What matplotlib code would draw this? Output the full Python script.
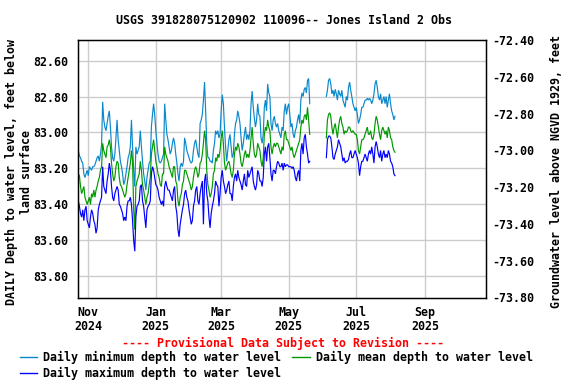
import numpy as np
import pandas as pd
import matplotlib
matplotlib.use("Agg")
import matplotlib.pyplot as plt
import matplotlib.dates as mdates

title = "USGS 391828075120902 110096-- Jones Island 2 Obs"
left_label = "DAILY Depth to water level, feet below\nland surface"
right_label = "Groundwater level above NGVD 1929, feet"
provisional = "---- Provisional Data Subject to Revision ----"
legend_labels = ["Daily minimum depth to water level",
                 "Daily mean depth to water level",
                 "Daily maximum depth to water level"]

seg1_start = "2024-10-23"
seg2_start = "2025-06-04"

min1 = [83.10, 83.13, 83.14, 83.16, 83.17, 83.23, 83.25, 83.23, 83.21, 83.24, 83.19, 83.20, 83.21, 83.19, 83.19, 83.18, 83.16, 83.14, 83.13, 83.16,
        83.12, 83.07, 82.83, 82.93, 82.97, 82.99, 82.95, 82.91, 82.88, 82.97, 83.08, 83.14, 83.16, 83.12, 83.03, 82.93, 83.04, 83.10, 83.16, 83.19,
        83.23, 83.29, 83.27, 83.23, 83.19, 83.14, 83.12, 83.08, 82.93, 83.08, 83.21, 83.30, 83.08, 83.12, 83.10, 83.08, 82.99, 83.08, 83.16, 83.23,
        83.27, 83.32, 83.25, 83.21, 83.17, 83.16, 82.97, 82.90, 82.84, 82.90, 82.99, 83.06, 83.12, 83.16, 83.17, 83.16, 83.14, 83.12, 82.84, 82.93,
        83.01, 83.04, 83.08, 83.12, 83.10, 83.06, 83.03, 83.06, 83.12, 83.17, 83.23, 83.27, 83.19, 83.17, 83.19, 83.16, 83.03, 83.06, 83.10, 83.12,
        83.14, 83.16, 83.17, 83.16, 83.10, 83.06, 83.04, 83.08, 83.12, 83.14, 82.95, 82.93, 82.90, 82.82, 82.72, 82.88, 83.06, 83.14, 83.14, 83.16,
        83.16, 83.17, 83.10, 83.06, 82.99, 83.01,
        82.99, 83.03, 83.01, 82.88, 82.79, 82.84, 82.97, 83.08, 83.16, 83.10, 83.04, 83.01, 83.08, 83.14, 83.12, 83.01, 82.95, 82.93, 82.88, 82.91,
        82.95, 83.03, 83.10, 83.06, 83.01, 82.97, 83.04, 83.01, 83.04, 82.99, 82.84, 82.77, 82.86, 82.92, 82.97, 82.93, 82.84, 82.90, 82.91, 83.03,
        83.06, 83.01, 82.86, 82.82, 82.88, 82.73, 82.78, 82.80, 82.95, 82.99, 82.93, 82.91, 82.95, 82.97, 82.95, 82.99, 83.01, 83.03, 82.97, 82.99,
        82.88, 82.84, 82.90, 82.86, 82.84, 82.90, 82.97, 82.95, 83.01, 83.03, 82.99, 82.97, 82.93, 82.90, 82.95, 82.82, 82.78, 82.80, 82.76, 82.75,
        82.78, 82.71, 82.70, 82.84]

mean1 = [83.23, 83.24, 83.30, 83.34, 83.32, 83.30, 83.36, 83.38, 83.40, 83.38, 83.36, 83.40, 83.34, 83.36, 83.32, 83.36, 83.32, 83.30, 83.27, 83.25,
         83.21, 83.19, 83.06, 83.10, 83.12, 83.14, 83.08, 83.07, 83.04, 83.08, 83.17, 83.23, 83.27, 83.25, 83.19, 83.16, 83.17, 83.25, 83.29, 83.30,
         83.32, 83.34, 83.36, 83.34, 83.29, 83.25, 83.21, 83.17, 83.10, 83.16, 83.43, 83.54, 83.30, 83.27, 83.25, 83.23, 83.16, 83.21, 83.29, 83.32,
         83.36, 83.40, 83.36, 83.34, 83.29, 83.25, 83.12, 83.08, 83.04, 83.10, 83.16, 83.19, 83.23, 83.25, 83.29, 83.30, 83.23, 83.23, 83.08, 83.12,
         83.14, 83.16, 83.19, 83.21, 83.23, 83.25, 83.19, 83.19, 83.27, 83.29, 83.38, 83.41, 83.36, 83.34, 83.29, 83.27, 83.21, 83.21, 83.23, 83.25,
         83.27, 83.29, 83.32, 83.30, 83.25, 83.21, 83.19, 83.21, 83.25, 83.23, 83.17, 83.16, 83.12, 83.06, 82.99, 83.04, 83.21, 83.29, 83.32, 83.36,
         83.34, 83.30, 83.23, 83.21, 83.14, 83.16,
         83.12, 83.14, 83.10, 83.03, 82.99, 83.06, 83.17, 83.21, 83.19, 83.17, 83.16, 83.19, 83.23, 83.25, 83.21, 83.12, 83.08, 83.10, 83.06, 83.08,
         83.12, 83.17, 83.19, 83.16, 83.12, 83.10, 83.14, 83.12, 83.14, 83.10, 83.03, 82.97, 83.06, 83.12, 83.14, 83.12, 83.06, 83.08, 83.10, 83.16,
         83.19, 83.14, 83.01, 82.97, 82.99, 82.93, 82.97, 82.99, 83.08, 83.12, 83.08, 83.06, 83.08, 83.06, 83.06, 83.08, 83.10, 83.12, 83.08, 83.10,
         83.01, 82.99, 83.04, 83.04, 83.06, 83.08, 83.10, 83.08, 83.12, 83.14, 83.12, 83.10, 83.08, 83.06, 83.04, 82.97, 82.93, 82.95, 82.91, 82.90,
         82.93, 82.86, 82.93, 83.01]

max1 = [83.38, 83.41, 83.45, 83.47, 83.43, 83.49, 83.43, 83.41, 83.49, 83.51, 83.53, 83.47, 83.43, 83.45, 83.49, 83.51, 83.56, 83.53, 83.43, 83.40,
        83.38, 83.36, 83.19, 83.30, 83.32, 83.34, 83.27, 83.23, 83.17, 83.21, 83.30, 83.36, 83.38, 83.34, 83.32, 83.30, 83.32, 83.40, 83.41, 83.43,
        83.45, 83.49, 83.47, 83.49, 83.41, 83.38, 83.38, 83.36, 83.40, 83.49, 83.60, 83.66, 83.47, 83.41, 83.40, 83.38, 83.30, 83.29, 83.38, 83.41,
        83.47, 83.53, 83.43, 83.41, 83.40, 83.38, 83.23, 83.19, 83.21, 83.25, 83.29, 83.30, 83.32, 83.36, 83.38, 83.40, 83.38, 83.41, 83.30, 83.27,
        83.30, 83.32, 83.32, 83.34, 83.36, 83.38, 83.32, 83.30, 83.41, 83.45, 83.54, 83.58, 83.51, 83.47, 83.43, 83.40, 83.34, 83.32, 83.36, 83.38,
        83.43, 83.47, 83.51, 83.49, 83.41, 83.38, 83.32, 83.30, 83.38, 83.40, 83.34, 83.30, 83.27, 83.51, 83.27, 83.23, 83.34, 83.38, 83.47, 83.53,
        83.45, 83.41, 83.38, 83.34, 83.27, 83.29,
        83.30, 83.41, 83.34, 83.25, 83.21, 83.27, 83.30, 83.34, 83.32, 83.29, 83.27, 83.34, 83.34, 83.38, 83.30, 83.25, 83.23, 83.27, 83.21, 83.25,
        83.27, 83.29, 83.32, 83.27, 83.23, 83.29, 83.30, 83.21, 83.25, 83.23, 83.21, 83.19, 83.27, 83.30, 83.32, 83.29, 83.21, 83.23, 83.27, 83.27,
        83.30, 83.25, 83.12, 83.08, 83.16, 83.08, 83.06, 83.14, 83.23, 83.27, 83.21, 83.21, 83.23, 83.19, 83.16, 83.17, 83.19, 83.19, 83.17, 83.21,
        83.17, 83.19, 83.18, 83.18, 83.19, 83.19, 83.19, 83.20, 83.19, 83.21, 83.25, 83.27, 83.23, 83.21, 83.27, 83.10, 83.06, 83.12, 83.03, 83.01,
        83.08, 83.12, 83.17, 83.16]

min2 = [82.80, 82.765, 82.71, 82.70, 82.73, 82.785, 82.765, 82.80, 82.76, 82.785, 82.82, 82.765, 82.785, 82.80, 82.765, 82.82, 82.84, 82.86,
        82.80, 82.82, 82.75, 82.72, 82.765, 82.80, 82.84, 82.86, 82.88, 82.86, 82.90, 82.95, 82.93, 82.90, 82.86, 82.86, 82.84, 82.82, 82.82,
        82.81, 82.82, 82.81, 82.82, 82.84, 82.82, 82.785, 82.73, 82.71, 82.75, 82.80, 82.82, 82.785, 82.84, 82.82, 82.80, 82.84, 82.80, 82.86,
        82.82, 82.785, 82.84, 82.88, 82.90, 82.93, 82.91]

mean2 = [83.03, 82.93, 82.90, 82.89, 82.91, 82.97, 83.01, 82.97, 82.95, 82.99, 83.03, 82.97, 82.93, 82.91, 82.95, 82.97, 83.01, 82.99,
         83.00, 82.99, 82.97, 82.97, 82.99, 83.00, 82.99, 83.00, 83.01, 83.01, 83.04, 83.10, 83.12, 83.08, 83.04, 83.04, 83.03, 83.01, 82.99,
         82.97, 83.01, 83.01, 82.99, 83.03, 83.04, 83.01, 82.95, 82.91, 82.93, 82.97, 83.01, 83.04, 82.99, 82.97, 82.99, 83.01, 82.99, 83.03,
         82.97, 82.99, 83.03, 83.04, 83.08, 83.10, 83.11]

max2 = [83.14, 83.04, 83.02, 83.02, 83.03, 83.08, 83.14, 83.15, 83.12, 83.10, 83.08, 83.04, 83.06, 83.08, 83.12, 83.16, 83.14, 83.17,
        83.16, 83.16, 83.15, 83.12, 83.10, 83.14, 83.14, 83.12, 83.10, 83.12, 83.14, 83.17, 83.24, 83.19, 83.16, 83.16, 83.14, 83.12, 83.14,
        83.16, 83.12, 83.10, 83.12, 83.08, 83.12, 83.17, 83.08, 83.05, 83.08, 83.12, 83.14, 83.10, 83.16, 83.12, 83.10, 83.14, 83.12, 83.14,
        83.10, 83.12, 83.16, 83.17, 83.19, 83.23, 83.24]

x_ticks = ["2024-11-01", "2025-01-01", "2025-03-01", "2025-05-01", "2025-07-01", "2025-09-01"]
x_ticklabels = ["Nov\n2024", "Jan\n2025", "Mar\n2025", "May\n2025", "Jul\n2025", "Sep\n2025"]
x_range = ["2024-10-23", "2025-10-26"]
left_ticks = [82.60, 82.80, 83.00, 83.20, 83.40, 83.60, 83.80]
right_ticks = [-72.40, -72.60, -72.80, -73.00, -73.20, -73.40, -73.60, -73.80]

c_min = "#0a88cc"
c_mean = "#009900"
c_max = "#0000ff"

FONT = "DejaVu Sans Mono"
FS = 8.4
plt.rcParams["font.family"] = FONT

fig = plt.figure(figsize=(5.76, 3.84), dpi=100)
W, H = 576, 384
L, R, T, B = 78.3, 485.8, 40.0, 297.5
ax = fig.add_axes([L / W, 1 - B / H, (R - L) / W, (B - T) / H])

def seg(start, vals):
    return pd.date_range(start, periods=len(vals), freq="D"), np.array(vals)

for vals1, vals2, col in [(min1, min2, c_min), (mean1, mean2, c_mean), (max1, max2, c_max)]:
    for start, vals in [(seg1_start, vals1), (seg2_start, vals2)]:
        d, v = seg(start, vals)
        ax.plot(d, v, color=col, lw=0.85, solid_joinstyle="miter")

ax.set_xlim(pd.Timestamp(x_range[0]), pd.Timestamp(x_range[1]))
ax.set_ylim(83.917, 82.486)
ax.set_yticks(left_ticks)
ax.set_yticklabels([f"{t:.2f}" for t in left_ticks], fontsize=FS, fontweight="bold")
ax.set_xticks([pd.Timestamp(t) for t in x_ticks])
ax.set_xticklabels(x_ticklabels, fontsize=FS, fontweight="bold", linespacing=1.1)
ax.grid(True, color="#cccccc", lw=1.0)
ax.set_axisbelow(True)
ax.tick_params(axis="both", length=0)
ax.tick_params(axis="y", pad=7)
ax.tick_params(axis="x", pad=6)
for s in ax.spines.values():
    s.set_color("black")
    s.set_linewidth(1.0)

ax2 = ax.twinx()
ax2.set_ylim(-73.80, -72.40)
ax2.set_yticks(right_ticks)
ax2.set_yticklabels([f"{t:.2f}" for t in right_ticks], fontsize=FS, fontweight="bold")
ax2.tick_params(axis="y", length=0, pad=5)

fig.text(284 / W, 1 - 20 / H, title, ha="center", va="center", fontsize=FS, fontweight="bold")
fig.text(19 / W, 1 - 172 / H, left_label, ha="center", va="center", rotation=90,
         fontsize=FS, fontweight="bold", multialignment="center", linespacing=1.15)
fig.text(557 / W, 1 - 172 / H, right_label, ha="center", va="center", rotation=90,
         fontsize=FS, fontweight="bold")
fig.text(283 / W, 1 - 343 / H, provisional, ha="center", va="center", fontsize=FS,
         fontweight="bold", color="red")

leg_items = [(20, 37, 43, 357, c_min, legend_labels[0]),
             (292, 310, 316, 357, c_mean, legend_labels[1]),
             (20, 37, 43, 373, c_max, legend_labels[2])]
for x0, x1, xt, y, col, lab in leg_items:
    fig.add_artist(plt.Line2D([x0 / W, x1 / W], [1 - y / H, 1 - y / H], color=col, lw=1.0,
                              transform=fig.transFigure))
    fig.text(xt / W, 1 - y / H, lab, ha="left", va="center", fontsize=FS, fontweight="bold")

fig.savefig("out.png", dpi=100)
